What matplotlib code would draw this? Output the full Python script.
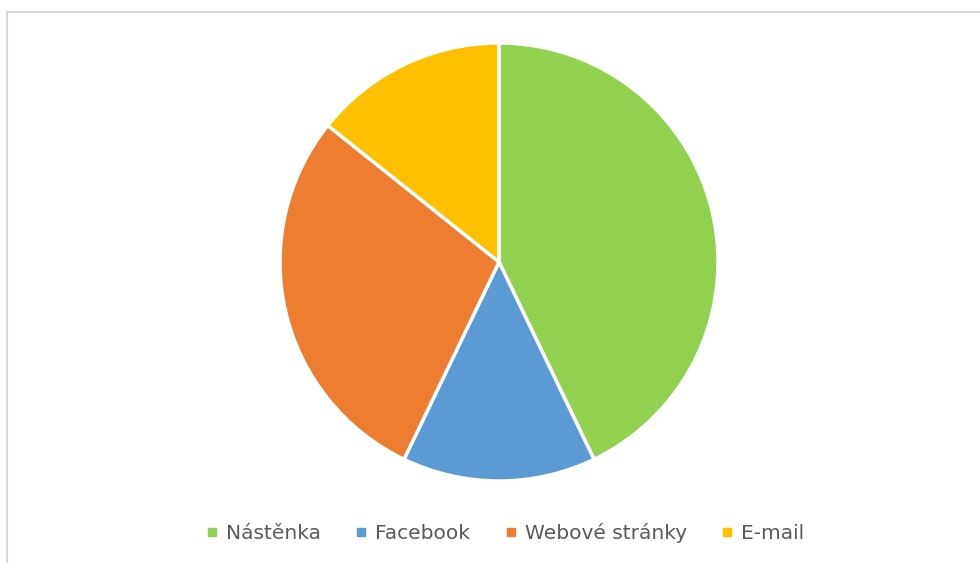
import matplotlib.pyplot as plt
from matplotlib.patches import Rectangle
from matplotlib.lines import Line2D

labels = ['Nástěnka', 'Facebook', 'Webové stránky', 'E-mail']
values = [3, 1, 2, 1]
colors = ['#92D050', '#5B9BD5', '#ED7D31', '#FFC000']

fig = plt.figure(figsize=(9.8, 5.63), dpi=100)

# light grey chart frame, right and bottom edges run off the picture
fig.patches.append(Rectangle((7 / 980, -0.05), 1.1, 1 - 12 / 563 + 0.05,
                             transform=fig.transFigure, fill=False,
                             edgecolor='#D9D9D9', linewidth=1.5))

ax = fig.add_axes([280 / 980, 82 / 563, 438 / 980, 438 / 563])
ax.pie(values, colors=colors, startangle=90, counterclock=False,
       wedgeprops={'edgecolor': 'white', 'linewidth': 2.5})
ax.set_xlim(-1, 1)
ax.set_ylim(-1, 1)
ax.set_aspect('equal')

handles = [Line2D([], [], marker='s', linestyle='', markersize=5.5,
                  markerfacecolor=c, markeredgecolor=c) for c in colors]
fig.legend(handles, labels, loc='center', ncol=4, frameon=False,
           bbox_to_anchor=(505 / 980, 1 - 533 / 563), fontsize=14.5,
           labelcolor='#595959', handletextpad=0.4, columnspacing=1.7,
           handlelength=0.6)

fig.savefig('out.png', dpi=100)
